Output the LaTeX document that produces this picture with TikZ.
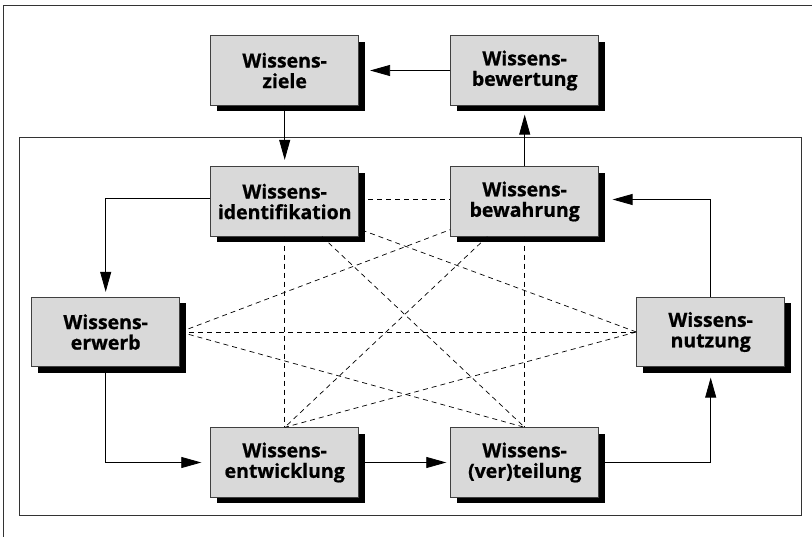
\documentclass[tikz,border=0pt]{standalone}
\usepackage{fontspec}
\setmainfont{Open Sans}
\usetikzlibrary{arrows.meta,shadows}
\begin{document}
\begin{tikzpicture}[x=1pt,y=-1pt,
  box/.style={draw=black!75, line width=0.8pt, fill=black!15, minimum width=148pt, minimum height=69.5pt, inner sep=0pt, align=center,
    font=\fontsize{19.5}{20.5}\selectfont\bfseries\addfontfeatures{FakeBold=0.8},
    drop shadow={shadow xshift=6pt, shadow yshift=-6pt, fill=black, opacity=1}},
  arr/.style={line width=0.8pt, -{Triangle[length=20pt,width=11pt]}},
  dsh/.style={line width=0.7pt, dash pattern=on 5pt off 4pt},
  frame/.style={line width=1pt, draw=black!80}]
\useasboundingbox (0,0) rectangle (812,537);
% frames
\coordinate (oTR) at (812,6);
\coordinate (oTL) at (3,6);
\coordinate (oBL) at (3,537);
\draw[frame] (oTR) -- (oTL) -- (oBL);
\coordinate (iTL) at (19,138);
\coordinate (iBR) at (801,515);
\draw[frame] (iTL) rectangle (iBR);
% boxes
\node[box] (ziele) at (284.7,70.5) {Wissens-\\ziele};
\node[box] (bewertung) at (524.7,70.5) {Wissens-\\bewertung};
\node[box] (ident) at (284.7,201.5) {Wissens-\\identifikation};
\node[box] (bew) at (524.7,201.5) {Wissens-\\bewahrung};
\node[box] (erwerb) at (105.7,332) {Wissens-\\erwerb};
\node[box] (nutz) at (710.7,332) {Wissens-\\nutzung};
\node[box] (ent) at (284.7,462.5) {Wissens-\\entwicklung};
\node[box] (vert) at (524.7,462.5) {Wissens-\\(ver)teilung};
% dashed relations
\draw[dsh] ([yshift=2pt]ident.east) -- ([yshift=2pt]bew.west);
\draw[dsh] (ident.south) -- (ent.north);
\draw[dsh] (bew.south) -- (vert.north);
\draw[dsh] (erwerb.east) -- (nutz.west);
\draw[dsh] (erwerb.east) -- (bew);
\draw[dsh] (nutz.west) -- (ident);
\draw[dsh] (ident) -- (vert.north);
\draw[dsh] (bew) -- (ent.north);
\draw[dsh] (erwerb.east) -- (vert.north);
\draw[dsh] (nutz.west) -- (ent.north);
% arrows
\draw[arr] (bewertung.west) -- ([xshift=11pt]ziele.east);
\draw[arr] (ziele.south) -- ([yshift=6.5pt]ident.north);
\draw[arr] (bew.north) -- ([yshift=-9pt]bewertung.south);
\draw[arr] ([yshift=3pt]ident.west) -| ([yshift=5pt]erwerb.north);
\draw[arr] (erwerb.south) |- ([xshift=-9pt]ent.west);
\draw[arr] (ent.east) -- ([xshift=-4pt]vert.west);
\draw[arr] (vert.east) -| ([yshift=-10.5pt]nutz.south);
\draw[arr] (nutz.north) |- ([xshift=13.5pt,yshift=2pt]bew.east);
\end{tikzpicture}
\end{document}
